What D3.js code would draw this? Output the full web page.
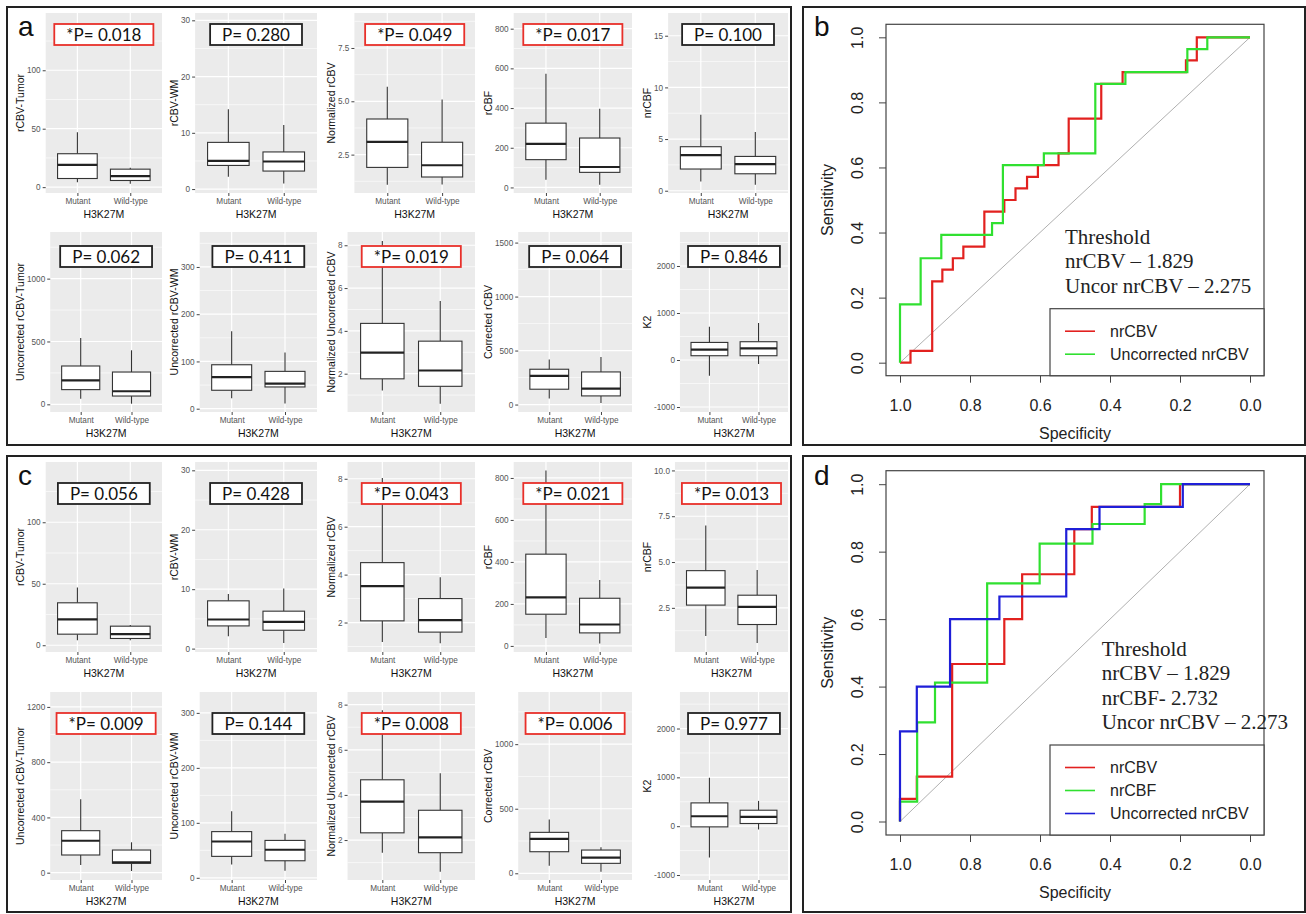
<!DOCTYPE html>
<html>
<head>
<meta charset="utf-8">
<script src="https://cdnjs.cloudflare.com/ajax/libs/d3/7.8.5/d3.min.js"></script>
<style>
  body { margin: 0; background: #fff; }
</style>
</head>
<body>
<svg id="fig" width="1306" height="914"></svg>
<script>
// ---- data ----
const groups = ["Mutant", "Wild-type"];

const measures = ["rCBV-Tumor", "rCBV-WM", "Normalized rCBV", "rCBF", "nrCBF",
  "Uncorrected rCBV-Tumor", "Uncorrected rCBV-WM", "Normalized Uncorrected rCBV", "Corrected rCBV", "K2"];

// panel a
const pValuesA = [0.018, 0.280, 0.049, 0.017, 0.100, 0.062, 0.411, 0.019, 0.064, 0.846];
const yDomainsA = [[-5, 149], [-0.7, 31.3], [0.7, 9.14], [-28, 879], [-0.22, 17.2],
  [-61, 1371], [-7, 374], [0.21, 8.62], [-69, 1598], [-1106, 2723]];
const yTicksA = [[0, 50, 100], [0, 10, 20, 30], [2.5, 5.0, 7.5], [0, 200, 400, 600, 800], [0, 5, 10, 15],
  [0, 500, 1000], [0, 100, 200, 300], [2, 4, 6, 8], [0, 500, 1000, 1500], [-1000, 0, 1000, 2000]];
// [lower whisker, Q1, median, Q3, upper whisker]
const mutantA = [[4.3, 7.4, 19, 28.6, 47], [2.2, 4.2, 5.0, 8.3, 14.2], [1.09, 1.9, 3.1, 4.17, 5.68],
  [39, 140, 220, 324, 573], [0.9, 2.1, 3.45, 4.26, 7.35], [45, 117, 191, 305, 528],
  [22, 39, 67, 93, 164], [1.22, 1.76, 2.98, 4.35, 8.2], [56, 142, 265, 327, 417], [-334, 91, 219, 374, 708]];
const wildA = [[3, 5.7, 9.4, 15.4, 16.5], [1.0, 3.2, 4.9, 6.6, 11.4], [1.1, 1.45, 2.0, 3.08, 5.08],
  [14, 76, 103, 249, 397], [0.58, 1.64, 2.58, 3.32, 5.68], [5, 66, 104, 257, 430],
  [11, 46, 53, 79, 119], [0.6, 1.41, 2.15, 3.52, 5.4], [15, 80, 148, 302, 441], [-85, 91, 248, 389, 787]];

// panel c
const pValuesC = [0.056, 0.428, 0.043, 0.021, 0.013, 0.009, 0.144, 0.008, 0.006, 0.977];
const yDomainsC = [[-5.5, 149], [-0.57, 31.4], [0.77, 8.7], [-29, 876], [0.09, 10.46],
  [-53, 1308], [-4, 338], [0.23, 8.56], [-52, 1404], [-1102, 2748]];
const yTicksC = [[0, 50, 100], [0, 10, 20, 30], [2, 4, 6, 8], [0, 200, 400, 600, 800], [2.5, 5.0, 7.5, 10.0],
  [0, 400, 800, 1200], [0, 100, 200, 300], [2, 4, 6, 8], [0, 500, 1000], [-1000, 0, 1000, 2000]];
const mutantC = [[4, 9, 21, 34.5, 47], [2.08, 3.82, 4.9, 8.04, 9.17], [1.19, 2.07, 3.52, 4.5, 8.03],
  [38, 151, 231, 437, 835], [0.96, 2.65, 3.6, 4.53, 6.99], [56, 128, 231, 304, 531],
  [24, 39, 66, 84, 121], [1.44, 2.32, 3.7, 4.67, 7.75], [59, 167, 267, 317, 417], [-640, -14, 204, 477, 990]];
const wildC = [[4, 5.5, 9, 15.5, 16.4], [0.95, 3.09, 4.5, 6.3, 10.1], [1.14, 1.6, 2.1, 3.0, 3.89],
  [11, 62, 102, 227, 314], [0.58, 1.59, 2.55, 3.19, 4.56], [12, 68, 75, 164, 220],
  [13, 31, 51, 68, 80], [0.6, 1.44, 2.12, 3.32, 4.96], [12, 77, 121, 180, 201], [-67, 55, 190, 327, 518]];

// ROC curves: operating points (specificity, sensitivity)
const rocB_nrCBV_spec = [1.0, 0.970, 0.908, 0.879, 0.849, 0.819, 0.759, 0.702, 0.670, 0.637, 0.606, 0.547, 0.518, 0.425, 0.364, 0.183, 0.152, 0.0];
const rocB_nrCBV_sens = [0, 0.036, 0.25, 0.286, 0.321, 0.357, 0.464, 0.5, 0.536, 0.571, 0.607, 0.643, 0.75, 0.857, 0.893, 0.929, 1.0, 1.0];
const rocB_uncor_spec = [1.0, 1.0, 0.941, 0.882, 0.737, 0.706, 0.589, 0.442, 0.356, 0.179, 0.122, 0.0];
const rocB_uncor_sens = [0, 0.179, 0.321, 0.393, 0.429, 0.607, 0.643, 0.857, 0.893, 0.964, 1.0, 1.0];

const rocD_nrCBV_spec = [1.0, 1.0, 0.952, 0.851, 0.702, 0.651, 0.502, 0.452, 0.200, 0.0];
const rocD_nrCBV_sens = [0, 0.067, 0.133, 0.467, 0.6, 0.733, 0.867, 0.933, 1.0, 1.0];
const rocD_nrCBF_spec = [1.0, 1.0, 0.951, 0.900, 0.751, 0.601, 0.450, 0.301, 0.254, 0.0];
const rocD_nrCBF_sens = [0, 0.059, 0.294, 0.412, 0.706, 0.824, 0.882, 0.941, 1.0, 1.0];
const rocD_uncor_spec = [1.0, 1.0, 0.952, 0.857, 0.716, 0.525, 0.430, 0.192, 0.0];
const rocD_uncor_sens = [0, 0.267, 0.4, 0.6, 0.667, 0.867, 0.933, 1.0, 1.0];

const legendB = ["nrCBV", "Uncorrected nrCBV"];
const legendD = ["nrCBV", "nrCBF", "Uncorrected nrCBV"];
const thresholdB = ["Threshold", "nrCBV \u2013 1.829", "Uncor nrCBV \u2013 2.275"];
const thresholdD = ["Threshold", "nrCBV \u2013 1.829", "nrCBF- 2.732", "Uncor nrCBV \u2013 2.273"];
const rocTicks = [0, 0.2, 0.4, 0.6, 0.8, 1.0];

// ---- drawing ----
const svg = d3.select('#fig');
const SANS = "'Liberation Sans', Arial, sans-serif";
const RED = "#e2211f", GREEN = "#30e030", BLUE = "#1f1fd8";

const meas = svg.append('text').attr('visibility', 'hidden').attr('font-family', SANS);
function textWidth(s, size, family) {
  meas.attr('font-size', size).attr('font-family', family || SANS).text(s);
  return meas.node().getComputedTextLength();
}

// boxplot grid layout
const colRight = [162, 317, 475, 632, 788];
const colTitleX = [20, 174, 331, 488, 647];
const rowsA = [{ top: 13, bottom: 193, pOff: 11 }, { top: 232, bottom: 412, pOff: 14 }];
const rowsC = [{ top: 462, bottom: 652, pOff: 21 }, { top: 692, bottom: 880, pOff: 21 }];

function tickFmt(ticks) {
  return ticks.some(t => !Number.isInteger(t)) ? d3.format('.1f') : (t => String(t));
}

function boxPanel(col, row, title, dom, ticks, mut, wild, p) {
  const fmt = tickFmt(ticks);
  const labW = d3.max(ticks, t => textWidth(fmt(t), 8.2));
  const left = colTitleX[col] + 12 + labW;
  const right = colRight[col];

  const y = d3.scaleLinear().domain(dom).range([row.bottom, row.top]);
  const x = d3.scalePoint().domain(groups).range([left, right]).padding(0.6);
  const g = svg.append('g');

  g.append('rect')
    .attr('x', left).attr('y', row.top)
    .attr('width', right - left).attr('height', row.bottom - row.top)
    .attr('fill', '#ebebeb');

  const step = ticks[1] - ticks[0];
  const minors = d3.range(ticks[0] - step / 2, dom[1], step).filter(v => v > dom[0]);
  g.selectAll('line.minor').data(minors).enter().append('line')
    .attr('x1', left).attr('x2', right)
    .attr('y1', d => y(d)).attr('y2', d => y(d))
    .attr('stroke', '#fff').attr('stroke-width', 0.6);
  g.selectAll('line.major').data(ticks).enter().append('line')
    .attr('x1', left).attr('x2', right)
    .attr('y1', d => y(d)).attr('y2', d => y(d))
    .attr('stroke', '#fff').attr('stroke-width', 1.2);
  g.selectAll('line.vgrid').data(groups).enter().append('line')
    .attr('x1', d => x(d)).attr('x2', d => x(d))
    .attr('y1', row.top).attr('y2', row.bottom)
    .attr('stroke', '#fff').attr('stroke-width', 1.2);

  // y axis
  const yAxis = g.append('g')
    .attr('transform', `translate(${left},0)`)
    .call(d3.axisLeft(y).tickValues(ticks).tickFormat(fmt).tickSize(3).tickPadding(2));
  yAxis.select('.domain').remove();
  yAxis.selectAll('line').attr('stroke', '#444');
  yAxis.selectAll('text').attr('font-family', SANS).attr('font-size', 8.2).attr('fill', '#555');

  // x axis
  const xAxis = g.append('g')
    .attr('transform', `translate(0,${row.bottom})`)
    .call(d3.axisBottom(x).tickSize(3).tickPadding(2));
  xAxis.select('.domain').remove();
  xAxis.selectAll('line').attr('stroke', '#444');
  xAxis.selectAll('text').attr('font-family', SANS).attr('font-size', 8.2).attr('fill', '#555');

  // boxes
  const bw = x.step() * 0.75;
  const stats = [mut, wild];
  const bx = g.selectAll('g.box').data(stats).enter().append('g');
  bx.append('line')
    .attr('x1', (d, i) => x(groups[i])).attr('x2', (d, i) => x(groups[i]))
    .attr('y1', d => y(d[4])).attr('y2', d => y(d[3]))
    .attr('stroke', '#333').attr('stroke-width', 1.1);
  bx.append('line')
    .attr('x1', (d, i) => x(groups[i])).attr('x2', (d, i) => x(groups[i]))
    .attr('y1', d => y(d[1])).attr('y2', d => y(d[0]))
    .attr('stroke', '#333').attr('stroke-width', 1.1);
  bx.append('rect')
    .attr('x', (d, i) => x(groups[i]) - bw / 2).attr('width', bw)
    .attr('y', d => y(d[3])).attr('height', d => y(d[1]) - y(d[3]))
    .attr('fill', '#fff').attr('stroke', '#333').attr('stroke-width', 1.1);
  bx.append('line')
    .attr('x1', (d, i) => x(groups[i]) - bw / 2).attr('x2', (d, i) => x(groups[i]) + bw / 2)
    .attr('y1', d => y(d[2])).attr('y2', d => y(d[2]))
    .attr('stroke', '#222').attr('stroke-width', 2.2);

  // titles
  g.append('text')
    .attr('transform', `translate(${colTitleX[col] + 4},${(row.top + row.bottom) / 2}) rotate(-90)`)
    .attr('text-anchor', 'middle')
    .attr('font-family', SANS).attr('font-size', 10.5).attr('fill', '#111')
    .text(title);
  g.append('text')
    .attr('x', (left + right) / 2).attr('y', row.bottom + 25)
    .attr('text-anchor', 'middle')
    .attr('font-family', SANS).attr('font-size', 10.5).attr('fill', '#111')
    .text('H3K27M');

  // p-value label
  const sig = p < 0.05;
  const label = (sig ? '*' : '') + 'P= ' + p.toFixed(3);
  const tw = textWidth(label, 17, 'Lato');
  const cx = (left + right) / 2;
  const top = row.top + row.pOff;
  g.append('rect')
    .attr('x', cx - tw / 2 - 12).attr('y', top)
    .attr('width', tw + 24).attr('height', 21)
    .attr('fill', '#fff')
    .attr('stroke', sig ? '#e8302a' : '#222').attr('stroke-width', 1.8);
  g.append('text')
    .attr('x', cx).attr('y', top + 16.5)
    .attr('text-anchor', 'middle')
    .attr('font-family', 'Lato').attr('font-size', 17).attr('fill', '#111')
    .text(label);
}

function boxFigure(rows, pv, doms, ticks, mut, wild) {
  measures.forEach((m, i) => {
    const r = rows[Math.floor(i / 5)];
    boxPanel(i % 5, r, m, doms[i], ticks[i], mut[i], wild[i], pv[i]);
  });
}

boxFigure(rowsA, pValuesA, yDomainsA, yTicksA, mutantA, wildA);
boxFigure(rowsC, pValuesC, yDomainsC, yTicksC, mutantC, wildC);

// ROC panels
function rocPanel(cfg) {
  const left = 886, right = 1264;
  const x = d3.scaleLinear().domain([1.04, -0.04]).range([left, right]);
  const y = d3.scaleLinear().domain([-0.04, 1.04]).range([cfg.bottom, cfg.top]);
  const g = svg.append('g');

  g.append('line')
    .attr('x1', x(1)).attr('y1', y(0)).attr('x2', x(0)).attr('y2', y(1))
    .attr('stroke', '#b0b0b0').attr('stroke-width', 1);

  const line = d3.line().x(d => x(d[0])).y(d => y(d[1])).curve(d3.curveStepAfter);
  cfg.curves.forEach(c => {
    g.append('path')
      .datum(d3.zip(c.spec, c.sens))
      .attr('d', line)
      .attr('fill', 'none').attr('stroke', c.color).attr('stroke-width', 2.2);
  });

  g.append('rect')
    .attr('x', left).attr('y', cfg.top)
    .attr('width', right - left).attr('height', cfg.bottom - cfg.top)
    .attr('fill', 'none').attr('stroke', '#444').attr('stroke-width', 1.2);

  const xAxis = g.append('g')
    .attr('transform', `translate(0,${cfg.bottom})`)
    .call(d3.axisBottom(x).tickValues(rocTicks).tickFormat(d3.format('.1f')).tickSize(7).tickPadding(17));
  xAxis.select('.domain').remove();
  xAxis.selectAll('line').attr('stroke', '#444');
  xAxis.selectAll('text').attr('font-family', SANS).attr('font-size', 16).attr('fill', '#222');

  const yAxis = g.append('g')
    .attr('transform', `translate(${left},0)`)
    .call(d3.axisLeft(y).tickValues(rocTicks).tickFormat(d3.format('.1f')).tickSize(7));
  yAxis.select('.domain').remove();
  yAxis.selectAll('line').attr('stroke', '#444');
  yAxis.selectAll('text')
    .attr('x', null).attr('dy', null)
    .attr('transform', 'translate(-23.5,0) rotate(-90)')
    .attr('text-anchor', 'middle')
    .attr('font-family', SANS).attr('font-size', 16).attr('fill', '#222');

  g.append('text')
    .attr('x', (left + right) / 2).attr('y', cfg.bottom + 63)
    .attr('text-anchor', 'middle')
    .attr('font-family', SANS).attr('font-size', 16).attr('fill', '#222')
    .text('Specificity');
  g.append('text')
    .attr('transform', `translate(${left - 53},${(cfg.top + cfg.bottom) / 2}) rotate(-90)`)
    .attr('text-anchor', 'middle')
    .attr('font-family', SANS).attr('font-size', 16).attr('fill', '#222')
    .text('Sensitivity');

  // legend
  const n = cfg.curves.length;
  const legTop = cfg.bottom - (21 + 23 * n);
  g.append('rect')
    .attr('x', 1050).attr('y', legTop)
    .attr('width', right - 1050).attr('height', cfg.bottom - legTop)
    .attr('fill', '#fff').attr('stroke', '#444').attr('stroke-width', 1.2);
  const items = g.selectAll('g.leg').data(cfg.curves).enter().append('g')
    .attr('transform', (d, i) => `translate(0,${legTop + 22.5 + i * 23})`);
  items.append('line')
    .attr('x1', 1065).attr('x2', 1095)
    .attr('stroke', d => d.color).attr('stroke-width', 1.6);
  items.append('text')
    .attr('x', 1110).attr('y', 5.8)
    .attr('font-family', SANS).attr('font-size', 16).attr('fill', '#222')
    .text(d => d.name);

  // threshold note
  const lines = cfg.note;
  g.selectAll('text.note').data(lines).enter().append('text')
    .attr('x', cfg.noteX)
    .attr('y', (d, i) => legTop - 16 - (lines.length - 1 - i) * 24.5)
    .attr('font-family', "'Liberation Serif', 'DejaVu Serif', serif")
    .attr('font-size', 21).attr('fill', '#222')
    .text(d => d);
}

rocPanel({
  top: 24.3, bottom: 375.7, noteX: 1065, note: thresholdB,
  curves: [
    { name: legendB[0], color: RED, spec: rocB_nrCBV_spec, sens: rocB_nrCBV_sens },
    { name: legendB[1], color: GREEN, spec: rocB_uncor_spec, sens: rocB_uncor_sens }
  ]
});
rocPanel({
  top: 470.7, bottom: 835, noteX: 1101.7, note: thresholdD,
  curves: [
    { name: legendD[0], color: RED, spec: rocD_nrCBV_spec, sens: rocD_nrCBV_sens },
    { name: legendD[1], color: GREEN, spec: rocD_nrCBF_spec, sens: rocD_nrCBF_sens },
    { name: legendD[2], color: BLUE, spec: rocD_uncor_spec, sens: rocD_uncor_sens }
  ]
});

// panel frames and letters
const frames = [
  { x: 7, y: 7, w: 784, h: 438, label: 'a' },
  { x: 803, y: 7, w: 502, h: 438, label: 'b' },
  { x: 7, y: 456, w: 784, h: 456, label: 'c' },
  { x: 803, y: 456, w: 502, h: 456, label: 'd' }
];
svg.selectAll('rect.frame').data(frames).enter().append('rect')
  .attr('x', d => d.x).attr('y', d => d.y)
  .attr('width', d => d.w).attr('height', d => d.h)
  .attr('fill', 'none').attr('stroke', '#222').attr('stroke-width', 2);
svg.selectAll('text.letter').data(frames).enter().append('text')
  .attr('x', d => d.x + 11).attr('y', d => d.y + 29)
  .attr('font-family', SANS).attr('font-size', 28).attr('fill', '#111')
  .text(d => d.label);
</script>
</body>
</html>
